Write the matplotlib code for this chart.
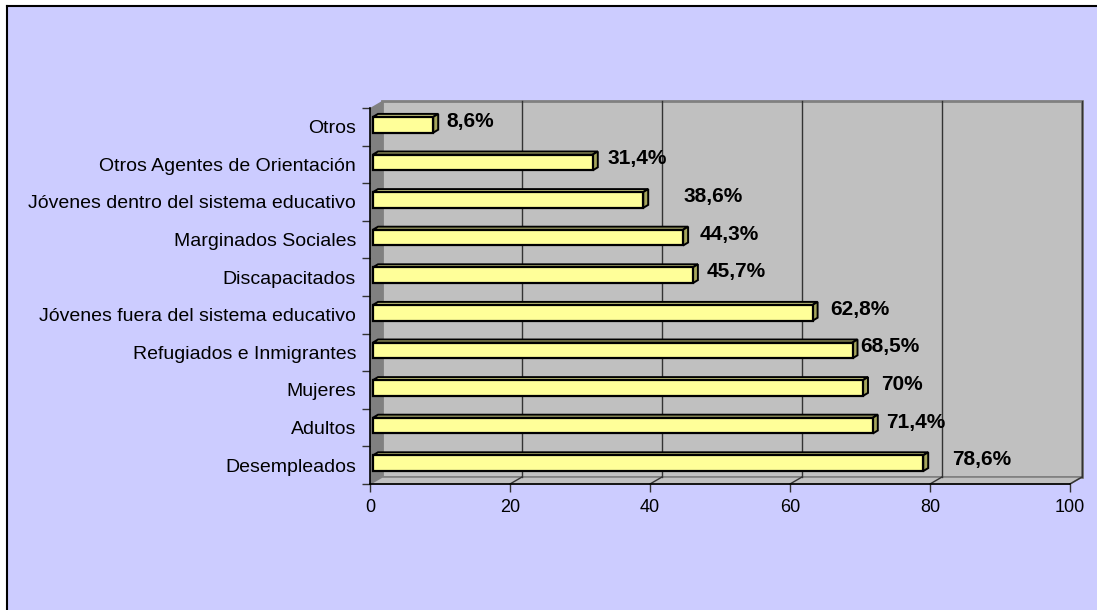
import matplotlib.pyplot as plt
from matplotlib.patches import Rectangle, Polygon
from matplotlib.lines import Line2D

plt.rcParams['font.family'] = ['Liberation Sans', 'DejaVu Sans']

# categories listed bottom to top
categories = [
    'Desempleados',
    'Adultos',
    'Mujeres',
    'Refugiados e Inmigrantes',
    'Jóvenes fuera del sistema educativo',
    'Discapacitados',
    'Marginados Sociales',
    'Jóvenes dentro del sistema educativo',
    'Otros Agentes de Orientación',
    'Otros',
]
values = [78.6, 71.4, 70.0, 68.5, 62.8, 45.7, 44.3, 38.6, 31.4, 8.6]
x_ticks = [0, 20, 40, 60, 80, 100]

# extra horizontal gap (pixels) between each bar end and its label
label_gap = [24, 8, 13, 3, 13, 9, 12, 35, 10, 8]

BG = '#CCCCFF'
WALL = '#C0C0C0'
SIDE_WALL = '#808080'
BAR = '#FFFF99'
BAR_TOP = '#CCCC80'
BAR_SIDE = '#A6A65C'

W, H = 1097, 610
fig = plt.figure(figsize=(W / 100, H / 100), dpi=100, facecolor='white')

# chart area with black left/top border
fig.patches.append(Rectangle((7 / W, 0), 1, 1 - 6 / H, transform=fig.transFigure,
                             facecolor=BG, edgecolor='none', zorder=-10))
fig.lines.append(Line2D([7 / W, 7 / W], [0, 1 - 6 / H], transform=fig.transFigure,
                        color='black', lw=1.5, zorder=-5))
fig.lines.append(Line2D([7 / W, 1], [1 - 6 / H, 1 - 6 / H], transform=fig.transFigure,
                        color='black', lw=1.5, zorder=-5))

ax = fig.add_axes([370 / W, (H - 484) / H, 700 / W, 376 / H])
ax.set_xlim(0, 100)
ax.set_ylim(-0.5, len(categories) - 0.5)
ax.patch.set_visible(False)

# pixel size of one data unit, to express the depth offsets in data units
p0 = ax.transData.transform((0, 0))
p1 = ax.transData.transform((1, 1))
sx, sy = p1[0] - p0[0], p1[1] - p0[1]


def dd(px, py):
    return px / sx, py / sy


ymin, ymax = -0.5, len(categories) - 0.5
wx, wy = dd(12, 7)

# back wall, side wall and floor
ax.add_patch(Rectangle((wx, ymin + wy), 100, ymax - ymin, facecolor=WALL,
                       edgecolor=SIDE_WALL, lw=2, zorder=0, clip_on=False))
ax.add_patch(Polygon([(0, ymin), (0, ymax), (wx, ymax + wy), (wx, ymin + wy)],
                     closed=True, facecolor=SIDE_WALL, edgecolor='none',
                     zorder=0.5, clip_on=False))
ax.add_patch(Polygon([(0, ymin), (100, ymin), (100 + wx, ymin + wy), (wx, ymin + wy)],
                     closed=True, facecolor=WALL, edgecolor=SIDE_WALL, lw=1.2,
                     zorder=0.5, clip_on=False))
for t in x_ticks[1:]:
    ax.plot([t + wx, t + wx], [ymin + wy, ymax + wy], color='#333333', lw=1,
            zorder=0.6, clip_on=False)
    ax.plot([t, t + wx], [ymin, ymin + wy], color='#333333', lw=1,
            zorder=0.6, clip_on=False)

# bars: front face set slightly into the depth, plus top and end faces
bh = 0.42
ox, oy = dd(3, 2)
bx, by = dd(5, 3)
pos = [i + oy for i in range(len(categories))]
ax.barh(pos, values, height=bh, left=ox, color=BAR, edgecolor='black',
        lw=1.6, zorder=3)
for y, v, gap in zip(pos, values, label_gap):
    top = y + bh / 2
    bot = y - bh / 2
    end = ox + v
    ax.add_patch(Polygon([(ox, top), (end, top), (end + bx, top + by), (ox + bx, top + by)],
                         closed=True, facecolor=BAR_TOP, edgecolor='black',
                         lw=1.4, zorder=2.5, clip_on=False))
    ax.add_patch(Polygon([(end, bot), (end, top), (end + bx, top + by), (end + bx, bot + by)],
                         closed=True, facecolor=BAR_SIDE, edgecolor='black',
                         lw=1.4, zorder=2.5, clip_on=False))
    txt = f'{v:.1f}'.replace('.0', '').replace('.', ',') + '%'
    ax.annotate(txt, (end + bx, y), xytext=(gap * 0.72, 2.5), textcoords='offset points',
                ha='left', va='center', fontsize=15, fontweight='bold',
                color='black', zorder=4, annotation_clip=False)

# axes
for s in ['top', 'right']:
    ax.spines[s].set_visible(False)
for s in ['left', 'bottom']:
    ax.spines[s].set_color('black')
    ax.spines[s].set_linewidth(1.2)
    ax.spines[s].set_zorder(5)

ax.set_yticks(range(len(categories)))
ax.set_yticklabels(categories, fontsize=14)
ax.set_yticks([k - 0.5 for k in range(len(categories) + 1)], minor=True)
ax.tick_params(axis='y', which='major', length=0, pad=10)
ax.tick_params(axis='y', which='minor', length=6, width=1, color='#333333')

ax.set_xticks(x_ticks)
ax.set_xticklabels([str(t) for t in x_ticks], fontsize=13)
ax.tick_params(axis='x', length=6, width=1, color='#333333', pad=5)

fig.savefig('out.png', dpi=100, facecolor=fig.get_facecolor())
